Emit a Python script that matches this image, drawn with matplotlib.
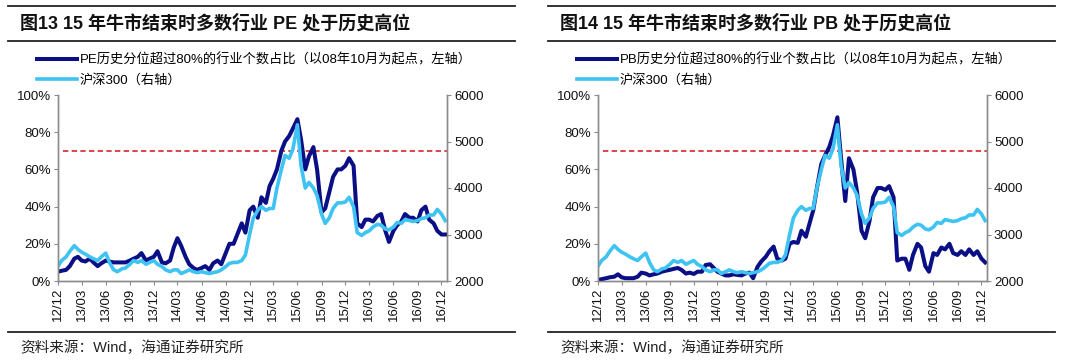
import matplotlib
matplotlib.use("Agg")
import matplotlib.pyplot as plt
import matplotlib.ticker as mticker
from matplotlib.lines import Line2D
import numpy as np
import pandas as pd

plt.rcParams['font.family'] = ['Liberation Sans', 'Noto Sans CJK SC']

# ---------------- data (semi-monthly) ----------------
DATES = pd.date_range('2012-12-01', periods=98, freq='SMS')

# share of industries whose PE percentile > 80% (%, left axis)
PE_SHARE = [5, 5.5, 6, 8, 12, 13, 11, 10.5, 12, 10,
            8, 9.5, 11, 10.5, 10, 10, 10, 10, 11, 12,
            13, 15, 11, 12, 13, 16, 10, 9.5, 11, 18,
            23, 19, 13, 9, 7, 6, 7, 8, 6, 9.5,
            11, 9, 15, 20, 20, 25, 31, 26, 38, 40,
            34, 45, 42, 51, 55, 60, 70, 75, 78, 82,
            87, 76, 60, 67, 72, 60, 37, 39, 48, 56,
            60, 60, 62, 66, 62, 31, 29, 33, 33, 32,
            35, 36, 27, 21, 27, 30, 32, 36, 34, 34,
            32, 38, 40, 33, 31, 27, 25, 25]

# share of industries whose PB percentile > 80% (%, left axis)
PB_SHARE = [0.5, 1, 1.5, 2, 2.3, 3.6, 2, 1.5, 1.5, 1.5,
            2.3, 4.5, 4, 3, 3.6, 4, 5, 5.5, 6, 6.5,
            7, 6, 4, 4.5, 3.8, 5, 5, 8.6, 9, 7,
            5, 4, 3, 3, 3.6, 3.3, 3, 4, 4.5, 1.5,
            7.7, 10.5, 13, 16, 18.5, 12, 11, 12, 20, 21,
            20.5, 27, 23.8, 31, 38, 50, 63, 67.5, 72, 78,
            88, 66, 43, 66, 60, 48, 27, 23, 32, 45,
            50, 50, 49, 51, 45, 11, 12, 12, 6, 14,
            20, 18, 8, 5, 15, 14, 18, 17, 20, 15,
            14, 16, 14, 17, 14, 16, 12, 10]

# CSI 300 index (right axis)
CSI300 = [2320, 2440, 2520, 2640, 2760, 2680, 2620, 2580, 2520, 2480,
          2440, 2520, 2600, 2400, 2240, 2200, 2260, 2280, 2360, 2440,
          2400, 2440, 2360, 2400, 2440, 2360, 2310, 2240, 2200, 2240,
          2240, 2160, 2200, 2240, 2200, 2180, 2200, 2180, 2160, 2180,
          2200, 2240, 2310, 2380, 2400, 2400, 2440, 2560, 3000, 3350,
          3520, 3600, 3520, 3560, 3560, 4000, 4400, 4700, 4640, 4840,
          5360, 4480, 4000, 4120, 4000, 3840, 3440, 3240, 3360, 3560,
          3680, 3680, 3700, 3800, 3600, 3040, 2980, 3040, 3080, 3160,
          3220, 3200, 3120, 3100, 3160, 3260, 3240, 3320, 3300, 3280,
          3300, 3340, 3360, 3420, 3420, 3540, 3440, 3300]

THRESHOLD = 70  # %
TICK_DATES = pd.date_range('2012-12-01', '2016-12-01', freq='3MS')
TICK_LABELS = [d.strftime('%y/%m') for d in TICK_DATES]

TITLES = ['图13 15 年牛市结束时多数行业 PE 处于历史高位',
          '图14 15 年牛市结束时多数行业 PB 处于历史高位']
LABELS_LEFT = ['PE历史分位超过80%的行业个数占比（以08年10月为起点，左轴）',
               'PB历史分位超过80%的行业个数占比（以08年10月为起点，左轴）']
LABEL_RIGHT = '沪深300（右轴）'
SOURCE = '资料来源：Wind，海通证券研究所'

NAVY = '#0b0f85'
CYAN = '#3ec3f2'
RED = '#d6262a'
SPINE = '#8c8c8c'

W, H = 1080, 360
fig = plt.figure(figsize=(W / 100, H / 100), dpi=100)


def fx(x):
    return x / W


def fy(y):
    return 1 - y / H


def panel(x0, share, title, label_left):
    # decorations
    fig.add_artist(Line2D([fx(x0 - 50), fx(x0 + 457)], [fy(6)] * 2, color='#222222', lw=1.3))
    fig.add_artist(Line2D([fx(x0 - 50), fx(x0 + 457)], [fy(41)] * 2, color='#222222', lw=1.3))
    fig.add_artist(Line2D([fx(x0 - 50), fx(x0 + 457)], [fy(332)] * 2, color='#222222', lw=1.3))
    fig.text(fx(x0 - 38), fy(23.5), title, fontsize=13, weight='bold', va='center', ha='left',
             color='#111111')
    fig.text(fx(x0 - 38), fy(348), SOURCE, fontsize=10.5, va='center', ha='left', color='#222222')

    ax = fig.add_axes([fx(x0), fy(281), fx(389), 186 / H])
    l1, = ax.plot(DATES, np.array(share) / 100, color=NAVY, lw=2.9, zorder=3,
                  solid_joinstyle='round', label=label_left)
    ax.axhline(THRESHOLD / 100, xmin=0.012, xmax=1, color=RED, lw=1.2, ls=(0, (3.2, 2.0)), zorder=2)
    ax.set_ylim(0, 1)
    ax.yaxis.set_major_locator(mticker.MultipleLocator(0.2))
    ax.yaxis.set_major_formatter(mticker.PercentFormatter(1.0, decimals=0))
    ax.set_xlim(pd.Timestamp('2012-12-01'), pd.Timestamp('2016-12-22'))
    ax.set_xticks(TICK_DATES)
    ax.set_xticklabels(TICK_LABELS, rotation=90)

    ax2 = ax.twinx()
    l2, = ax2.plot(DATES, CSI300, color=CYAN, lw=2.6, solid_joinstyle='round', label=LABEL_RIGHT)
    ax2.set_ylim(2000, 6000)
    ax2.yaxis.set_major_locator(mticker.MultipleLocator(1000))

    for a in (ax, ax2):
        a.spines['top'].set_visible(False)
        for s in ('left', 'right', 'bottom'):
            a.spines[s].set_color(SPINE)
            a.spines[s].set_linewidth(1.0)
        a.tick_params(axis='both', direction='out', length=3, width=0.8, color=SPINE,
                      labelsize=9.5, labelcolor='#111111', pad=2)
    ax.patch.set_visible(False)

    ax.legend(handles=[l1, l2], loc='upper left',
              bbox_to_anchor=(fx(x0 - 21), fy(53)), bbox_transform=fig.transFigure,
              frameon=False, fontsize=9.5, handlelength=3.0, handletextpad=0.25,
              labelspacing=0.55, borderpad=0, borderaxespad=0)


panel(58, PE_SHARE, TITLES[0], LABELS_LEFT[0])
panel(598, PB_SHARE, TITLES[1], LABELS_LEFT[1])

fig.savefig('out.png', dpi=100)
